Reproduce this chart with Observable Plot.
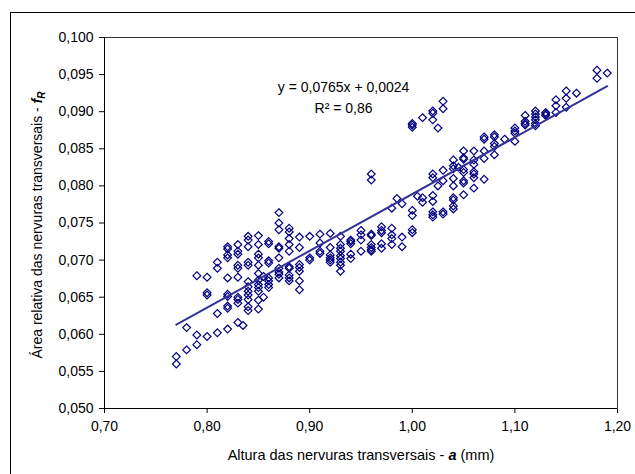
<!DOCTYPE html>
<html><head><meta charset="utf-8">
<script src="https://cdn.jsdelivr.net/npm/d3@7"></script>
<script src="https://cdn.jsdelivr.net/npm/@observablehq/plot@0.6"></script>
<style>body{margin:0;background:#fff} svg{display:block}</style>
</head><body><div id="chart"></div>
<script>
// x values (altura a, mm) and the fR values read at each x
const alturaA = [0.77,0.78,0.79,0.80,0.81,0.82,0.83,0.835,0.84,0.85,0.855,0.86,0.87,0.88,0.89,0.90,0.91,0.92,0.93,0.94,0.95,0.96,0.97,0.98,0.985,0.99,1.00,1.005,1.01,1.02,1.025,1.03,1.04,1.045,1.05,1.06,1.07,1.08,1.09,1.10,1.11,1.12,1.13,1.14,1.15,1.16,1.18,1.19];
const areaFR = [
  [0.0570,0.0560],
  [0.0609,0.0579],
  [0.0679,0.0599,0.0586],
  [0.0677,0.0656,0.0653,0.0597],
  [0.0697,0.0689,0.0628,0.0602],
  [0.0718,0.0715,0.0707,0.0703,0.0676,0.0654,0.0651,0.0638,0.0635,0.0607],
  [0.0721,0.0712,0.0708,0.0693,0.0689,0.0677,0.0650,0.0647,0.0642,0.0616],
  [0.0612],
  [0.0732,0.0727,0.0718,0.0697,0.0693,0.0671,0.0664,0.0658,0.0653,0.0647,0.0637,0.0632],
  [0.0733,0.0721,0.0708,0.0703,0.0693,0.0682,0.0673,0.0667,0.0663,0.0658,0.0646,0.0634],
  [0.0678,0.0650],
  [0.0725,0.0722,0.0699,0.0696,0.0676,0.0672,0.0667,0.0663],
  [0.0764,0.0750,0.0741,0.0718,0.0716,0.0703,0.0689,0.0684,0.0681,0.0676],
  [0.0743,0.0738,0.0729,0.0721,0.0712,0.0691,0.0689,0.0680,0.0676,0.0672],
  [0.0731,0.0717,0.0694,0.0690,0.0685,0.0672,0.0660],
  [0.0732,0.0703,0.0700],
  [0.0735,0.0723,0.0712,0.0709],
  [0.0736,0.0717,0.0707,0.0703,0.0700,0.0697],
  [0.0732,0.0721,0.0716,0.0712,0.0706,0.0702,0.0697,0.0693,0.0685],
  [0.0727,0.0725,0.0722,0.0708,0.0702],
  [0.0740,0.0734,0.0727,0.0712],
  [0.0816,0.0808,0.0735,0.0733,0.0721,0.0717,0.0714,0.0712],
  [0.0745,0.0740,0.0737,0.0722,0.0716],
  [0.0770,0.0743,0.0734,0.0729,0.0721],
  [0.0783],
  [0.0776,0.0731,0.0718],
  [0.0884,0.0882,0.0879,0.0767,0.0760,0.0741,0.0737],
  [0.0786],
  [0.0892,0.0784,0.0778],
  [0.0901,0.0898,0.0889,0.0816,0.0811,0.0787,0.0779,0.0765,0.0761,0.0758],
  [0.0878,0.0800],
  [0.0914,0.0904,0.0821,0.0807,0.0765,0.0762],
  [0.0835,0.0827,0.0823,0.0810,0.0800,0.0784,0.0781,0.0773,0.0769],
  [0.0825],
  [0.0847,0.0838,0.0836,0.0822,0.0818,0.0807,0.0804,0.0788],
  [0.0847,0.0835,0.0829,0.0819,0.0816,0.0811,0.0797],
  [0.0866,0.0863,0.0847,0.0837,0.0809],
  [0.0869,0.0866,0.0857,0.0853,0.0842],
  [0.0863],
  [0.0878,0.0874,0.0871,0.0860],
  [0.0895,0.0887,0.0884,0.0882],
  [0.0901,0.0897,0.0893,0.0889,0.0884,0.0881],
  [0.0899,0.0897,0.0895],
  [0.0916,0.0908,0.0899],
  [0.0928,0.0918,0.0906],
  [0.0925],
  [0.0956,0.0945],
  [0.0952]
];
const xTicks = [0.70,0.80,0.90,1.00,1.10,1.20];
const yTicks = [0.050,0.055,0.060,0.065,0.070,0.075,0.080,0.085,0.090,0.095,0.100];
const fitSlope = 0.0765, fitIntercept = 0.0024;
const fitRange = [0.77, 1.19];
const eqLabel = "y = 0,0765x + 0,0024";
const r2Label = "R² = 0,86";
const eqPos = {a: 0.933, f: 0.0933};
const r2Pos = {a: 0.933, f: 0.0904};

const points = alturaA.flatMap((a, i) => areaFR[i].map(f => ({a, f})));
const fitLine = fitRange.map(a => ({a, f: fitSlope * a + fitIntercept}));
const comma = (d, n) => d.toFixed(n).replace(".", ",");
const FONT = "'Liberation Sans', Arial, sans-serif";

const plot = Plot.plot({
  width: 635, height: 474,
  marginLeft: 104, marginRight: 18, marginTop: 37, marginBottom: 66,
  style: {fontFamily: FONT, fontSize: "14px", color: "#000", background: "#fff"},
  x: {domain: [0.7, 1.2], ticks: xTicks, tickFormat: d => comma(d, 2), label: null, tickSize: 5, tickPadding: 8},
  y: {domain: [0.05, 0.1], ticks: yTicks, tickFormat: d => comma(d, 3), label: null, tickSize: 5, tickPadding: 6},
  marks: [
    Plot.frame({stroke: "#333"}),
    Plot.ruleX([0.7], {stroke: "#000"}),
    Plot.ruleY([0.05], {stroke: "#000"}),
    Plot.dot(points, {x: "a", y: "f", symbol: "diamond2", r: 3.5, stroke: "#000080", strokeWidth: 1.2, fill: "none"}),
    Plot.line(fitLine, {x: "a", y: "f", stroke: "#333399", strokeWidth: 2}),
    Plot.text([eqLabel], {x: () => eqPos.a, y: () => eqPos.f, text: d => d, fontSize: 14, fill: "#000"}),
    Plot.text([r2Label], {x: () => r2Pos.a, y: () => r2Pos.f, text: d => d, fontSize: 14, fill: "#000"})
  ]
});

const svg = d3.select(plot);
svg.append("rect").attr("x", 10.5).attr("y", 12.5).attr("width", 700).attr("height", 600)
  .attr("fill", "none").attr("stroke", "#000");

const xt = svg.append("text").attr("x", 361).attr("y", 460).attr("text-anchor", "middle")
  .attr("font-family", FONT).attr("font-size", 14.5).attr("fill", "#000");
xt.append("tspan").text("Altura das nervuras transversais - ");
xt.append("tspan").attr("font-weight", "bold").attr("font-style", "italic").text("a");
xt.append("tspan").text(" (mm)");

const yt = svg.append("text").attr("transform", "translate(42,225) rotate(-90)").attr("text-anchor", "middle")
  .attr("font-family", FONT).attr("font-size", 14).attr("fill", "#000");
yt.append("tspan").text("Área relativa das nervuras transversais - ");
yt.append("tspan").attr("font-weight", "bold").attr("font-style", "italic").text("f");
yt.append("tspan").attr("font-weight", "bold").attr("font-style", "italic").attr("font-size", 10).attr("dy", 3).text("R");

document.getElementById("chart").appendChild(plot);
</script></body></html>
